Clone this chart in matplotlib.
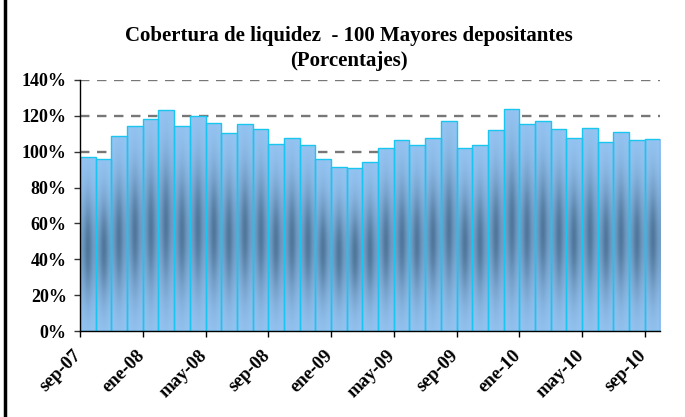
import numpy as np
import matplotlib
matplotlib.use("Agg")
import matplotlib.pyplot as plt
from matplotlib.colors import LinearSegmentedColormap
from matplotlib.lines import Line2D
from matplotlib.transforms import ScaledTranslation

# -------------------------
# Datos (porcentaje mensual, sep-07 .. sep-10)
# -------------------------
cobertura = [97.0, 96.0, 108.6, 114.1, 118.1, 123.1, 114.1, 119.7, 115.8, 110.2,
             115.3, 112.5, 104.1, 107.5, 103.6, 95.7, 91.3, 90.7, 94.4, 102.2,
             106.3, 103.9, 107.5, 116.9, 101.9, 103.6, 111.9, 123.6, 115.3, 116.9,
             112.5, 107.5, 113.0, 105.2, 110.8, 106.3, 106.9]
tick_labels = ["sep-07", "ene-08", "may-08", "sep-08", "ene-09", "may-09",
               "sep-09", "ene-10", "may-10", "sep-10"]
y_ticks = [0, 20, 40, 60, 80, 100, 120, 140]

TITLE_1 = "Cobertura de liquidez  - 100 Mayores depositantes"
TITLE_2 = "(Porcentajes)"
FONT = "Liberation Serif"
EDGE = "#19c6ef"

# gradiente de cada barra (claro arriba/abajo, oscuro al centro)
cmap = LinearSegmentedColormap.from_list("barra", ["#96c6f4", "#50779b"])
u = np.linspace(0, 1, 40)
v = np.linspace(0, 1, 120)
U, V = np.meshgrid(u, v)
fx = np.exp(-((U - 0.5) / 0.25) ** 2)
fy = np.exp(-((V - 0.48) / 0.30) ** 2)
grad = fy * (0.5 + 0.5 * fx)

fig = plt.figure(figsize=(6.85, 4.17), dpi=100)
ax = fig.add_axes([0.1168, 0.2062, 0.9642 - 0.1168, 0.8082 - 0.2062])

x = np.arange(len(cobertura))
bars = ax.bar(x, cobertura, width=1.0, facecolor="none", edgecolor=EDGE,
              linewidth=1.0, zorder=3)
for b in bars:
    x0 = b.get_x()
    h = b.get_height()
    im = ax.imshow(grad, extent=(x0, x0 + b.get_width(), 0, h), origin="lower",
                   cmap=cmap, vmin=0, vmax=1, aspect="auto", zorder=2,
                   interpolation="bilinear")
    im.set_clip_path(b)

ax.set_xlim(-0.5, len(cobertura) - 0.5)
ax.set_ylim(0, 140)

# grid
ax.set_yticks(y_ticks)
ax.set_yticklabels([f"{t}%" for t in y_ticks])
ax.yaxis.grid(True, color="#777777", linestyle=(0, (4, 3.2)), linewidth=1.7, zorder=1)
ax.set_axisbelow(True)

ax.set_xticks(np.arange(-0.5, len(cobertura) - 0.5, 4))
ax.set_xticklabels(tick_labels, rotation=45, ha="right", rotation_mode="anchor")

for s in ["top", "right"]:
    ax.spines[s].set_visible(False)
for s in ["left", "bottom"]:
    ax.spines[s].set_color("black")
    ax.spines[s].set_linewidth(1.0)
    ax.spines[s].set_zorder(5)

ax.tick_params(axis="y", length=4.5, width=1.0, color="#333333", pad=5,
               labelsize=13)
ax.tick_params(axis="x", length=4.5, width=1.0, color="black", pad=7,
               labelsize=13.5)
for lbl in ax.get_xticklabels() + ax.get_yticklabels():
    lbl.set_fontfamily(FONT)
    lbl.set_fontweight("bold")
offset = ScaledTranslation(-7 / 100, 0, fig.dpi_scale_trans)
for lbl in ax.get_xticklabels():
    lbl.set_transform(lbl.get_transform() + offset)

fig.text(0.51, 1 - 36 / 417, TITLE_1, ha="center", va="center", fontsize=15,
         fontweight="bold", fontfamily=FONT)
fig.text(0.51, 1 - 61 / 417, TITLE_2, ha="center", va="center", fontsize=15,
         fontweight="bold", fontfamily=FONT)

# borde izquierdo negro
fig.add_artist(Line2D([0.0073, 0.0073], [0, 1], transform=fig.transFigure,
                      color="black", linewidth=2.5))

fig.savefig("out.png", dpi=100)
